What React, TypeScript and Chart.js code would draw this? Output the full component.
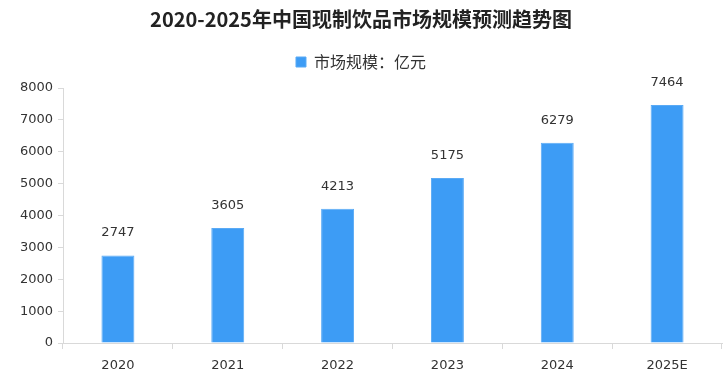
import React, { useEffect, useRef } from "react";
import { Chart, registerables } from "chart.js";

Chart.register(...registerables);

const categories = ["2020", "2021", "2022", "2023", "2024", "2025E"];
const marketSize = [2747, 3605, 4213, 5175, 6279, 7464];
const seriesName = "市场规模：亿元";
const titleText = "2020-2025年中国现制饮品市场规模预测趋势图";
const yTicks = [0, 1000, 2000, 3000, 4000, 5000, 6000, 7000, 8000];

const numFont = "'DejaVu Sans', 'Noto Sans CJK SC', sans-serif";
const cjkFont = "'Noto Sans CJK SC', 'DejaVu Sans', sans-serif";

const valueLabels = {
  id: "valueLabels",
  afterDatasetsDraw(chart: any) {
    const ctx = chart.ctx;
    ctx.save();
    ctx.font = `13px ${numFont}`;
    ctx.fillStyle = "#333333";
    ctx.textAlign = "center";
    ctx.textBaseline = "bottom";
    chart.data.datasets.forEach((ds: any, i: number) => {
      const meta = chart.getDatasetMeta(i);
      meta.data.forEach((bar: any, j: number) => {
        ctx.fillText(String(ds.data[j]), bar.x, bar.y - 16);
      });
    });
    ctx.restore();
  },
};

export default function App() {
  const ref = useRef<HTMLCanvasElement | null>(null);
  useEffect(() => {
    document.body.style.margin = "0";
    const chart = new Chart(ref.current as HTMLCanvasElement, {
      type: "bar",
      data: {
        labels: categories,
        datasets: [
          {
            label: seriesName,
            data: marketSize,
            backgroundColor: "#3d9cf5",
            borderColor: "#5aaaf5",
            borderWidth: 1,
            barPercentage: 0.3,
            categoryPercentage: 1,
          },
        ],
      },
      options: {
        animation: false,
        responsive: false,
        maintainAspectRatio: false,
        layout: { padding: { left: 0, right: 5, top: 0, bottom: 0 } },
        plugins: {
          title: {
            display: true,
            text: titleText,
            color: "#222222",
            font: { family: cjkFont, size: 20, weight: "bold" },
            padding: { top: 7, bottom: 13 },
          },
          subtitle: {
            display: true,
            text: " ",
            weight: 500,
            font: { size: 8, lineHeight: 1 },
            padding: 0,
          } as any,
          legend: {
            display: true,
            labels: {
              color: "#333333",
              font: { family: cjkFont, size: 16 },
              boxWidth: 10,
              boxHeight: 10,
              padding: 10,
            },
          },
          tooltip: { enabled: false },
        },
        scales: {
          x: {
            grid: {
              display: true,
              drawOnChartArea: false,
              tickLength: 6,
              color: "#d9d9d9",
              offset: true,
            },
            border: { display: true, color: "#d9d9d9" },
            ticks: {
              color: "#333333",
              font: { family: numFont, size: 13 },
              padding: 9,
            },
            afterFit(scale: any) {
              scale.height = 38;
            },
          },
          y: {
            min: 0,
            max: 8000,
            afterBuildTicks(scale: any) {
              scale.ticks = yTicks.map((v) => ({ value: v }));
            },
            grid: {
              display: true,
              drawOnChartArea: false,
              tickLength: 5,
              color: "#d9d9d9",
            },
            border: { display: true, color: "#d9d9d9" },
            ticks: {
              color: "#333333",
              font: { family: numFont, size: 13 },
              padding: 5,
              callback: (v: any) => String(v),
            },
            afterFit(scale: any) {
              scale.width = 63;
            },
          },
        },
      },
      plugins: [valueLabels],
    });
    return () => chart.destroy();
  }, []);
  return (
    <div style={{ width: 727, height: 381, position: "relative" }}>
      <canvas ref={ref} width={727} height={381} style={{ width: 727, height: 381 }} />
    </div>
  );
}
